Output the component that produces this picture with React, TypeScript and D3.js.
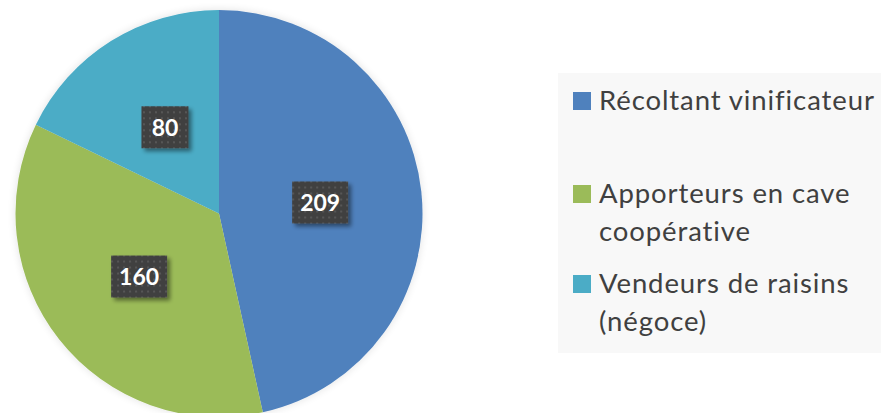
import * as d3 from "d3";

const categories = ["Récoltant vinificateur", "Apporteurs en cave coopérative", "Vendeurs de raisins (négoce)"];
const values = [209, 160, 80];
const legendLines = [["Récoltant vinificateur"], ["Apporteurs en cave", "coopérative"], ["Vendeurs de raisins", "(négoce)"]];
const colors = ["#4F81BD", "#9BBB59", "#4BACC6"];

const W = 881;
const H = 413;

export default function App() {
  const cx = 219;
  const cy = 213.5;
  const r = 203.5;

  const pie = d3.pie<number>().sort(null).value((d) => d);
  const arcs = pie(values);
  const arc = d3.arc<d3.PieArcDatum<number>>().innerRadius(0).outerRadius(r);
  const labelArc = d3.arc<d3.PieArcDatum<number>>().innerRadius(r * 0.5).outerRadius(r * 0.5);

  // legend item baselines
  const legendY = [110, 203, 293];
  const lineH = 38;

  return (
    <svg
      width={W}
      height={H}
      style={{ position: "absolute", left: 0, top: 0, display: "block" }}
      fontFamily="Lato, 'Open Sans', sans-serif"
    >
      <defs>
        <pattern id="dots" width={6} height={6} patternUnits="userSpaceOnUse">
          <rect width={6} height={6} fill="#404040" />
          <rect x={2} y={2} width={2} height={2} fill="#575757" />
        </pattern>
        <filter id="shadow" x="-20%" y="-20%" width="150%" height="150%">
          <feGaussianBlur in="SourceAlpha" stdDeviation={2} />
          <feOffset dx={3} dy={3} result="b" />
          <feComponentTransfer>
            <feFuncA type="linear" slope={0.45} />
          </feComponentTransfer>
          <feMerge>
            <feMergeNode />
            <feMergeNode in="SourceGraphic" />
          </feMerge>
        </filter>
        <filter id="pieShadow" x="-10%" y="-10%" width="120%" height="120%">
          <feGaussianBlur in="SourceAlpha" stdDeviation={4} />
          <feComponentTransfer>
            <feFuncA type="linear" slope={0.12} />
          </feComponentTransfer>
          <feMerge>
            <feMergeNode />
            <feMergeNode in="SourceGraphic" />
          </feMerge>
        </filter>
      </defs>
      <rect width={W} height={H} fill="#ffffff" />

      <g transform={`translate(${cx},${cy})`} filter="url(#pieShadow)">
        {arcs.map((a, i) => (
          <path key={i} d={arc(a) || ""} fill={colors[i]} />
        ))}
      </g>

      <g transform={`translate(${cx},${cy})`}>
        {arcs.map((a, i) => {
          const [lx, ly] = labelArc.centroid(a);
          const label = String(values[i]);
          const bw = label.length === 3 ? 56 : 47;
          const bh = 42;
          return (
            <g key={i} transform={`translate(${lx},${ly})`}>
              <rect x={-bw / 2} y={-bh / 2} width={bw} height={bh} fill="url(#dots)" filter="url(#shadow)" />
              <text
                textAnchor="middle"
                dy="0.36em"
                fill="#ffffff"
                fontSize={23}
                fontWeight="bold"
              >
                {label}
              </text>
            </g>
          );
        })}
      </g>

      <g>
        <rect x={558} y={73} width={W - 558} height={280} fill="#f8f8f8" />
        {categories.map((c, i) => (
          <g key={c}>
            <rect x={573} y={legendY[i] - 18} width={18} height={18} fill={colors[i]} />
            {legendLines[i].map((line, j) => (
              <text
                key={j}
                x={599}
                y={legendY[i] + j * lineH}
                fontSize={27.5}
                letterSpacing={0.9}
                fill="#404040"
              >
                {line}
              </text>
            ))}
          </g>
        ))}
      </g>
    </svg>
  );
}
